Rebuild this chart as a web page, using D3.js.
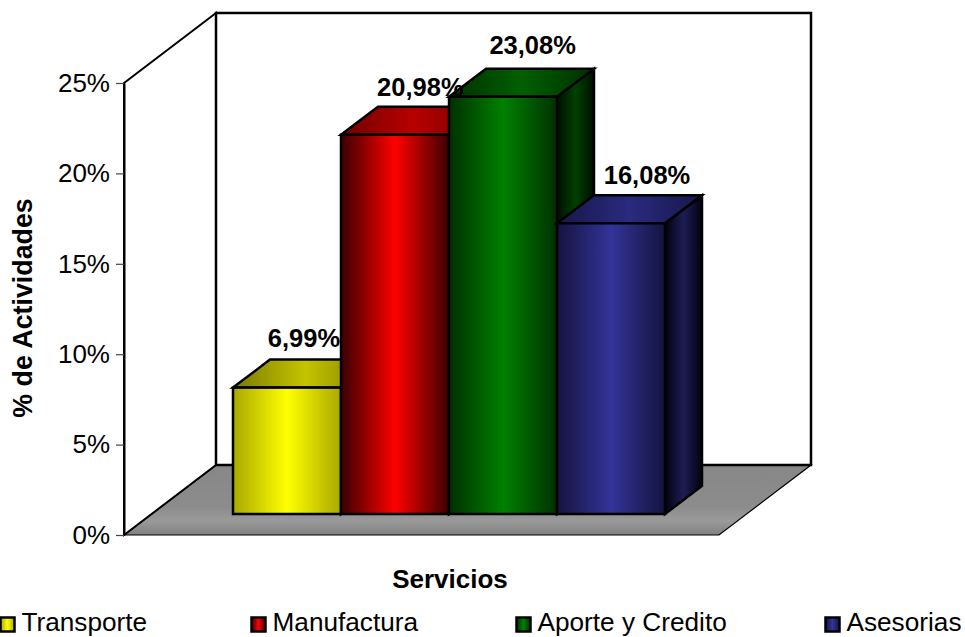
<!DOCTYPE html>
<html>
<head>
<meta charset="utf-8">
<script src="https://cdn.jsdelivr.net/npm/d3@7"></script>
<style>
html, body { margin: 0; padding: 0; background: #fff; }
svg { display: block; }
text { font-family: "Liberation Sans", Arial, sans-serif; fill: #000; }
</style>
</head>
<body>
<script>
var categories = ["Transporte", "Manufactura", "Aporte y Credito", "Asesorias"];
var values = [6.99, 20.98, 23.08, 16.08];
var valueLabels = ["6,99%", "20,98%", "23,08%", "16,08%"];
var yTicks = [0, 5, 10, 15, 20, 25];

// gradient stops per category: edge, middle
var frontColours = [["#a8a800", "#ffff00"], ["#3a0000", "#ff0000"], ["#003000", "#008000"], ["#14143f", "#333399"]];
var topColours = [["#7a7a00", "#c4c400"], ["#700000", "#b80000"], ["#002f00", "#006000"], ["#171748", "#2a2a80"]];
var sideColours = [["#4a4a00", "#808000"], ["#300000", "#800000"], ["#000f00", "#004000"], ["#02020f", "#1d1d55"]];

var width = 965,
    height = 637;

var svg = d3.select("body").append("svg")
    .attr("width", width)
    .attr("height", height);
var defs = svg.append("defs");

function gradient(id, c) {
    var g = defs.append("linearGradient").attr("id", id);
    g.append("stop").attr("offset", "0%").attr("stop-color", c[0]);
    g.append("stop").attr("offset", "50%").attr("stop-color", c[1]);
    g.append("stop").attr("offset", "100%").attr("stop-color", c[0]);
}

categories.forEach(function(d, i) {
    gradient("front" + i, frontColours[i]);
    gradient("top" + i, topColours[i]);
    gradient("side" + i, sideColours[i]);
});

var floorGrad = defs.append("linearGradient").attr("id", "floor")
    .attr("x1", 0).attr("y1", 0).attr("x2", 0).attr("y2", 1);
floorGrad.append("stop").attr("offset", "0%").attr("stop-color", "#878787");
floorGrad.append("stop").attr("offset", "60%").attr("stop-color", "#8c8c8c");
floorGrad.append("stop").attr("offset", "80%").attr("stop-color", "#9a9a9a");
floorGrad.append("stop").attr("offset", "100%").attr("stop-color", "#808080");

var y = d3.scaleLinear().domain([0, 25]).range([535, 83]);
var x = d3.scaleBand().domain(categories).range([233, 665]);
var labelX = d3.scalePoint().domain(categories).range([304, 647]);

// box depth
var wallDx = 92, wallDy = -70, wallRight = 811;
var barDx = 37, barDy = -28, barLift = 21;

// label placement is not regular in the original
var labelLift = [13, 10.5, 15, 11];
var labelNudge = [0, 2, 0, 0];

function pts(a) {
    return a.map(function(p) { return p.join(","); }).join(" ");
}

// floor
svg.append("polygon")
    .attr("points", pts([[124, y(0)], [124 + wallDx, y(0) + wallDy], [wallRight, y(0) + wallDy], [wallRight - wallDx, y(0)]]))
    .attr("fill", "url(#floor)").attr("stroke", "#000").attr("stroke-width", 1.2);

// walls
svg.append("polygon")
    .attr("points", pts([[124, y(25)], [124 + wallDx, y(25) + wallDy], [124 + wallDx, y(0) + wallDy], [124, y(0)]]))
    .attr("fill", "#fff").attr("stroke", "#000").attr("stroke-width", 2);
svg.append("rect")
    .attr("x", 124 + wallDx).attr("y", y(25) + wallDy)
    .attr("width", wallRight - 124 - wallDx).attr("height", y(0) - y(25))
    .attr("fill", "#fff").attr("stroke", "#000").attr("stroke-width", 2.5);

// axis
var axis = svg.append("g")
    .attr("transform", "translate(124,0)")
    .call(d3.axisLeft(y).tickValues(yTicks).tickSize(8).tickPadding(6).tickSizeOuter(0)
        .tickFormat(function(d) { return d + "%"; }));
axis.select(".domain").attr("stroke", "#000").attr("stroke-width", 2);
axis.selectAll(".tick line").attr("stroke", "#444").attr("stroke-width", 1.2);
axis.selectAll(".tick text").style("font-size", "26px").attr("fill", "#000");

// bars
categories.forEach(function(c, i) {
    var x0 = x(c),
        x1 = x0 + x.bandwidth(),
        top = y(values[i]) - barLift,
        base = y(0) - barLift;
    var g = svg.append("g")
        .attr("stroke", "#000").attr("stroke-width", 2.5).attr("stroke-linejoin", "miter");
    g.append("polygon")
        .attr("points", pts([[x1, top], [x1 + barDx, top + barDy], [x1 + barDx, base + barDy], [x1, base]]))
        .attr("fill", "url(#side" + i + ")");
    g.append("polygon")
        .attr("points", pts([[x0, top], [x0 + barDx, top + barDy], [x1 + barDx, top + barDy], [x1, top]]))
        .attr("fill", "url(#top" + i + ")");
    g.append("rect")
        .attr("x", x0).attr("y", top)
        .attr("width", x.bandwidth()).attr("height", base - top)
        .attr("fill", "url(#front" + i + ")");
});

// value labels
svg.selectAll(".value").data(categories).enter().append("text")
    .attr("class", "value")
    .attr("x", function(d, i) { return labelX(d) + labelNudge[i]; })
    .attr("y", function(d, i) { return y(values[i]) - barLift + barDy - labelLift[i]; })
    .attr("text-anchor", "middle")
    .style("font-size", "25.5px")
    .style("font-weight", "bold")
    .text(function(d, i) { return valueLabels[i]; });

// axis titles
svg.append("text")
    .attr("x", 450).attr("y", 588)
    .attr("text-anchor", "middle")
    .style("font-size", "26px").style("font-weight", "bold")
    .text("Servicios");
svg.append("text")
    .attr("transform", "translate(32,308) rotate(-90)")
    .attr("text-anchor", "middle")
    .style("font-size", "26.8px").style("font-weight", "bold")
    .text("% de Actividades");

// legend
var legendX = d3.scaleOrdinal().domain(categories).range([0.5, 251.5, 516.5, 825.5]);
var legend = svg.selectAll(".legend").data(categories).enter().append("g")
    .attr("class", "legend")
    .attr("transform", function(d) { return "translate(" + legendX(d) + ",617.5)"; });
legend.append("rect")
    .attr("width", 14).attr("height", 14)
    .attr("fill", function(d, i) { return "url(#front" + i + ")"; })
    .attr("stroke", "#000").attr("stroke-width", 2.5);
legend.append("text")
    .attr("x", 21).attr("y", 13.5)
    .style("font-size", "26.2px")
    .text(function(d) { return d; });
</script>
</body>
</html>
